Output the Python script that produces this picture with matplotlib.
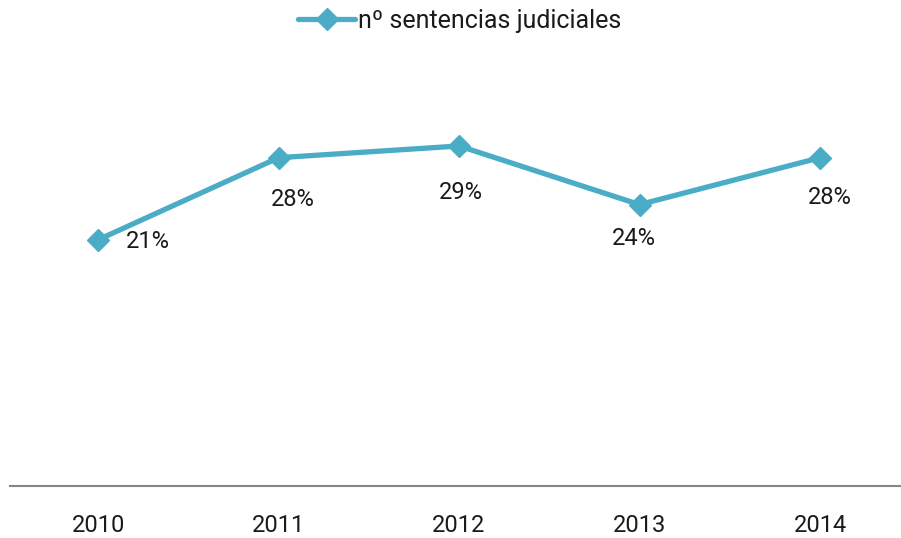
import matplotlib
matplotlib.use("Agg")
import matplotlib.pyplot as plt

# ── Data ─────────────────────────────────────────────────────────────────────
years = ["2010", "2011", "2012", "2013", "2014"]
values = [21, 28, 29, 24, 28]
value_labels = ["21%", "28%", "29%", "24%", "28%"]
series_name = "nº sentencias judiciales"

# ── Style ────────────────────────────────────────────────────────────────────
LINE_COLOR = "#4BACC6"
AXIS_COLOR = "#868686"
TEXT_COLOR = "#1a1a1a"
plt.rcParams["font.family"] = ["Roboto", "DejaVu Sans"]

# per-label offsets in pixels (x, y)
label_offsets = [(50, -2), (14, -42), (2, -47), (-6, -34), (10, -40)]

fig = plt.figure(figsize=(9.01, 5.38), dpi=100)
ax = fig.add_axes([10 / 901, 52 / 538, 890 / 901, 469 / 538])

xs = list(range(len(years)))
ax.plot(xs, values, color=LINE_COLOR, linewidth=3.8, marker="D", markersize=11,
        label=series_name, solid_joinstyle="round", solid_capstyle="round")

for x, y, lab, off in zip(xs, values, value_labels, label_offsets):
    ax.annotate(lab, (x, y), xytext=off, textcoords="offset pixels",
                ha="center", va="center", fontsize=17, color=TEXT_COLOR)

ax.set_xlim(-0.488, 4.443)
ax.set_ylim(0, 40)
ax.set_xticks(xs)
ax.set_xticklabels(years, fontsize=17, color=TEXT_COLOR)
ax.set_yticks([])
ax.tick_params(axis="x", length=0, pad=20)

for side in ["top", "left", "right"]:
    ax.spines[side].set_visible(False)
ax.spines["bottom"].set_color(AXIS_COLOR)
ax.spines["bottom"].set_linewidth(1.5)

fig.legend(loc="upper center", bbox_to_anchor=(0.51, 1.025), frameon=False,
           fontsize=18, handlelength=2.3, handletextpad=0.1,
           labelcolor=TEXT_COLOR)

fig.savefig("out.png", dpi=100)
